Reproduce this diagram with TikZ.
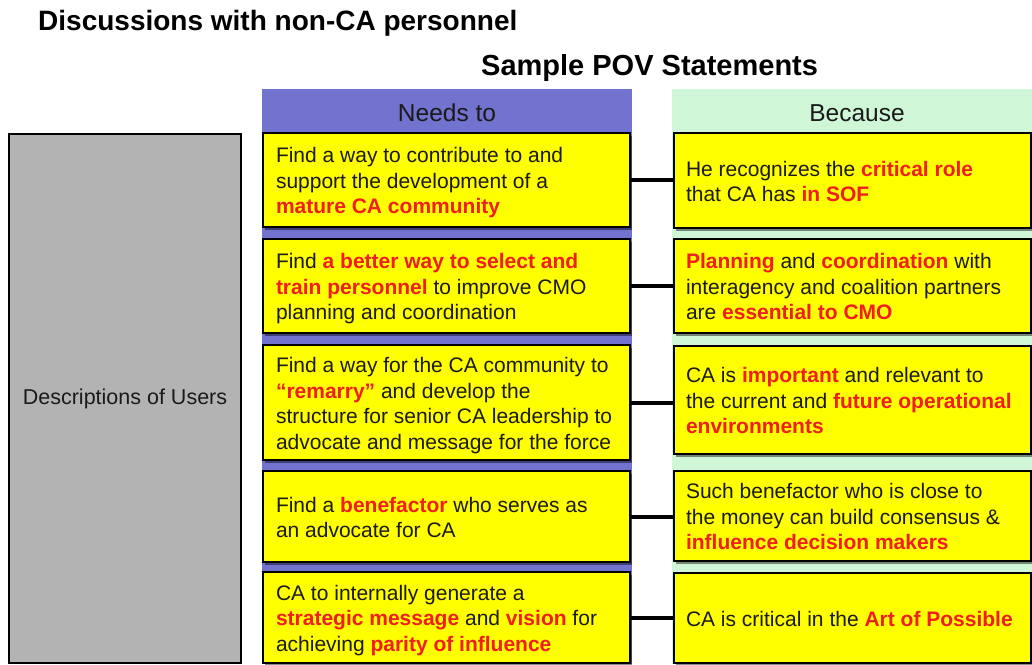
\documentclass[tikz,border=0pt]{standalone}
\usepackage{fontspec}
\setmainfont{Liberation Sans}
\usetikzlibrary{shadows}

\definecolor{needblue}{RGB}{114,114,207}
\definecolor{becausegreen}{RGB}{208,246,216}
\definecolor{usergray}{RGB}{179,179,179}
\definecolor{boxyellow}{RGB}{255,255,0}
\definecolor{accentred}{RGB}{240,30,30}
\definecolor{inkblack}{RGB}{26,26,26}

\newcommand{\redbf}[1]{\textbf{\textcolor{accentred}{#1}}}
% left-aligned, unbreakable lines in a block of fixed width
\newcommand{\cardlines}[2]{\makebox[#1][l]{\begin{tabular}{@{}l@{}}\rule{0pt}{24.5pt}#2\end{tabular}}}

\begin{document}
\begin{tikzpicture}[x=1pt,y=-1pt,
  card/.style={draw=black, line width=2.8pt, fill=boxyellow, anchor=north west,
    outer sep=0pt, inner ysep=0pt, text=inkblack,
    font=\fontsize{21}{25.5}\selectfont,
    drop shadow={shadow xshift=1.5pt, shadow yshift=-2.5pt, opacity=0.45, fill=black}},
  needcard/.style={card, inner xsep=13pt},
  becausecard/.style={card, inner xsep=12pt},
  colhead/.style={anchor=base, inner sep=0pt, text=inkblack, font=\fontsize{24.5}{28}\selectfont},
  title/.style={anchor=base west, inner sep=0pt, text=black, font=\fontsize{28}{32}\selectfont\bfseries},
  link/.style={draw=black, line width=4pt}
]
\useasboundingbox (0,0) rectangle (1032,664);

% titles
\node[title] (maintitle) at (38,30) {Discussions with non-CA personnel};
\node[title, font=\fontsize{29}{33}\selectfont\bfseries] (subtitle) at (481,75) {Sample POV Statements};

% column backgrounds
\fill[needblue] (262,89) rectangle (632,664);
\fill[becausegreen] (672,89) rectangle (1032,664);
\node[colhead] (needs) at (447,121) {Needs to};
\node[colhead] (because) at (857,121) {Because};

% left-hand user box
\node[draw=black, line width=2.8pt, fill=usergray, minimum width=232pt, minimum height=529pt,
  outer sep=0pt, text=inkblack, font=\fontsize{21.5}{25.5}\selectfont] (users) at (125,398.5)
  {Descriptions of Users};

% "Needs to" statements
\node[needcard, minimum height=94pt] (n1) at (263,133)
  {\cardlines{341pt}{Find a way to contribute to and\\ support the development of a\\ \redbf{mature CA community}}};
\node[needcard, minimum height=94pt] (n2) at (263,239)
  {\cardlines{341pt}{Find \redbf{a better way to select and}\\ \redbf{train personnel} to improve CMO\\ planning and coordination}};
\node[needcard, minimum height=115pt] (n3) at (263,345)
  {\cardlines{341pt}{Find a way for the CA community to\\ \redbf{“remarry”} and develop the\\ structure for senior CA leadership to\\ advocate and message for the force}};
\node[needcard, minimum height=91pt] (n4) at (263,471)
  {\cardlines{341pt}{Find a \redbf{benefactor} who serves as\\ an advocate for CA}};
\node[needcard, minimum height=91pt] (n5) at (263,572)
  {\cardlines{341pt}{CA to internally generate a\\ \redbf{strategic message} and \redbf{vision} for\\ achieving \redbf{parity of influence}}};

% "Because" statements
\node[becausecard, minimum height=95pt] (b1) at (674,133)
  {\cardlines{333pt}{He recognizes the \redbf{critical role}\\ that CA has \redbf{in SOF}}};
\node[becausecard, minimum height=94pt] (b2) at (674,239)
  {\cardlines{333pt}{\redbf{Planning} and \redbf{coordination} with\\ interagency and coalition partners\\ are \redbf{essential to CMO}}};
\node[becausecard, minimum height=108pt] (b3) at (674,346)
  {\cardlines{333pt}{CA is \redbf{important} and relevant to\\ the current and \redbf{future operational}\\ \redbf{environments}}};
\node[becausecard, minimum height=90pt] (b4) at (674,471)
  {\cardlines{333pt}{Such benefactor who is close to\\ the money can build consensus \&\\ \redbf{influence decision makers}}};
\node[becausecard, minimum height=90pt] (b5) at (674,573)
  {\cardlines{333pt}{CA is critical in the \redbf{Art of Possible}}};

% connectors
\foreach \i in {1,...,5}
  \draw[link] (n\i.east) -- (b\i.west |- n\i.east);
\end{tikzpicture}
\end{document}
